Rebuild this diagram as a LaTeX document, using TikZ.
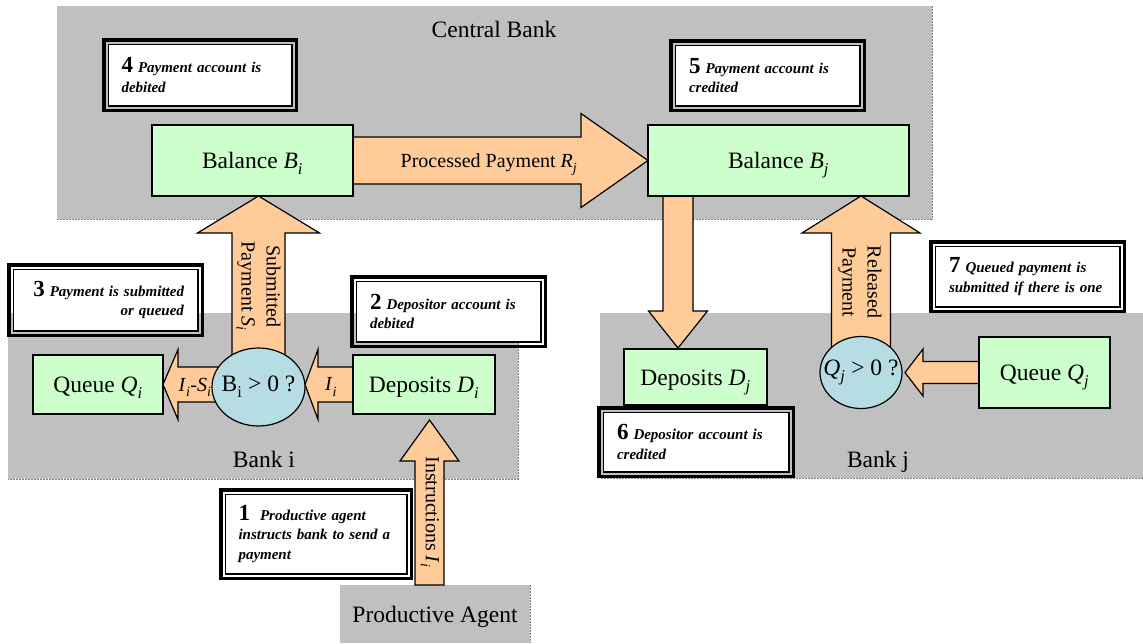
\documentclass[tikz,border=0pt]{standalone}
\usepackage{fontspec}
\setmainfont{Liberation Serif}
\usetikzlibrary{calc,shapes.geometric}
\definecolor{areagrey}{RGB}{192,192,192}
\definecolor{edgegrey}{RGB}{128,128,128}
\definecolor{boxgreen}{RGB}{204,255,204}
\definecolor{arrorange}{RGB}{255,204,153}
\definecolor{circblue}{RGB}{183,221,228}
\pgfdeclarelayer{bg}
\pgfdeclarelayer{mid}
\pgfsetlayers{bg,mid,main}
\newcommand\bigfont{\fontsize{23.5}{28}\selectfont}
\newcommand\lblfont{\fontsize{20}{25}\selectfont}
\newcommand\vsub[2]{\textit{#1}\raisebox{-0.1em}{\textsubscript{\textit{#2}}}}
\newcommand\stepnum[1]{{\fontsize{23}{19.5}\selectfont\upshape\bfseries #1}}
\tikzset{
 area/.style={fill=areagrey, inner sep=0pt, outer sep=0pt},
 areaedge/.style={draw=edgegrey, line width=0.7pt, dash pattern=on 2pt off 1pt},
 gbox/.style={fill=boxgreen, draw=black, line width=1.2pt, inner sep=0pt, outer sep=0pt, font=\bigfont, text height=16pt, text depth=0pt},
 cond/.style={ellipse, fill=circblue, draw=black, line width=1.2pt, inner sep=0pt, outer sep=0pt},
 fat/.style={fill=arrorange, draw=black, line width=1.2pt, line join=miter},
 numbox/.style={fill=white, draw=black, line width=1.5pt, inner sep=0pt, outer sep=0pt, font=\fontsize{15}{19.5}\selectfont\bfseries\itshape},
 frame/.style={draw=black, line width=3.5pt},
 alabel/.style={font=\lblfont, inner sep=0pt, align=center},
 atext/.style={font=\bigfont, inner sep=0pt},
}
% name, x, y, inner width, inner height, options, text
\newcommand\numbox[7]{%
 \node[numbox, minimum width=#4pt, minimum height=#5pt, #6] (#1) at (#2,#3) {#7};
 \draw[frame] ([shift={(-4.5pt,4.5pt)}]#1.north west) rectangle ([shift={(4.5pt,-4.5pt)}]#1.south east);}
% start, tip, shaft half width, head half width, head length (signed)
\newcommand\harrow[5]{%
 \draw[fat] let \p1=(#1), \p2=(#2) in
 ({\x1},{\y2+#3}) -- ({\x2-(#5)},{\y2+#3}) -- ({\x2-(#5)},{\y2+#4}) -- ({\x2},{\y2}) -- ({\x2-(#5)},{\y2-#4}) -- ({\x2-(#5)},{\y2-#3}) -- ({\x1},{\y2-#3}) -- cycle;}
\newcommand\varrow[5]{%
 \draw[fat] let \p1=(#1), \p2=(#2) in
 ({\x2+#3},{\y1}) -- ({\x2+#3},{\y2-(#5)}) -- ({\x2+#4},{\y2-(#5)}) -- ({\x2},{\y2}) -- ({\x2-#4},{\y2-(#5)}) -- ({\x2-#3},{\y2-(#5)}) -- ({\x2-#3},{\y1}) -- cycle;}
\begin{document}
\begin{tikzpicture}[x=1pt,y=-1pt]
\useasboundingbox (0,0) rectangle (1143,643);
\begin{pgfonlayer}{bg}
 \fill[white] (0,0) rectangle (1143,643);
 \node[area, minimum width=875pt, minimum height=213pt] (cb) at (494.5,112.5) {};
 \draw[areaedge] (cb.north east) -- (cb.south east) -- (cb.south west);
 \node[atext, anchor=base] (cbt) at (494,37.5) {Central Bank};
 \node[area, minimum width=510pt, minimum height=166pt] (bki) at (263,396) {};
 \draw[areaedge] (bki.north east) -- (bki.south east) -- (bki.south west);
 \node[atext, anchor=base] (bkit) at (264,467) {Bank i};
 \node[area, minimum width=543pt, minimum height=165pt] (bkj) at (871.5,395.5) {};
 \draw[areaedge] (bkj.south east) -- (bkj.south west);
 \node[atext, anchor=base] (bkjt) at (878,467) {Bank j};
 \node[area, minimum width=190pt, minimum height=58pt, font=\bigfont, text height=16pt, text depth=0pt] (pa) at (435,614) {Productive Agent};
 \draw[areaedge] (pa.north east) -- (pa.south east);
\end{pgfonlayer}

% green boxes
\node[gbox, minimum width=201pt, minimum height=71pt] (Bi) at (252.5,160.5) {Balance \vsub{B}{i}};
\node[gbox, minimum width=261pt, minimum height=71pt] (Bj) at (778.5,160.5) {Balance \vsub{B}{j}};
\node[gbox, minimum width=130pt, minimum height=59pt] (Qi) at (98,384.5) {Queue \vsub{Q}{i}};
\node[gbox, minimum width=142pt, minimum height=59pt] (Di) at (424,384.5) {Deposits \vsub{D}{i}};
\node[gbox, minimum width=143pt, minimum height=56pt] (Dj) at (695.5,377) {Deposits \vsub{D}{j}};
\node[gbox, minimum width=131pt, minimum height=71pt] (Qj) at (1044.5,372.5) {Queue \vsub{Q}{j}};

% decision ellipses
\node[cond, minimum width=93pt, minimum height=78pt, label={[atext]center:B\raisebox{-0.1em}{\textsubscript{i}} > 0 ?}] (ci) at (258.5,387) {};
\node[cond, minimum width=82pt, minimum height=72pt, label={[atext]center:\vsub{Q}{j} > 0 ?}] (cj) at (861,372.5) {};

% numbered step boxes
\numbox{b4}{200}{75}{183.5}{61.5}{text width=157pt, align=left}{\stepnum{4} Payment account is\\debited}
\numbox{b5}{767.5}{75.5}{184.5}{60.5}{text width=157pt, align=left}{\stepnum{5} Payment account is\\credited}
\numbox{b3}{105.5}{300}{184.5}{61.5}{text width=157pt, align=right}{\stepnum{3} Payment is submitted\\or queued}
\numbox{b2}{448.5}{311.5}{184.5}{60.5}{text width=157pt, align=left}{\stepnum{2} Depositor account is\\debited}
\numbox{b6}{696}{442}{185.5}{59.5}{text width=158pt, align=left}{\stepnum{6} Depositor account is\\credited}
\numbox{b7}{1027.5}{276.5}{184.5}{60.5}{text width=157pt, align=left}{\stepnum{7} Queued payment is\\submitted if there is one}
\numbox{b1}{316}{534}{181.5}{79.5}{text width=155pt, align=left}{\stepnum{1}\ \ Productive agent\\instructs bank to send a\\payment}

% tip coordinates
\coordinate (st) at (ci.center |- Bi.south);
\coordinate (ti) at (ci.east |- Di.west);
\coordinate (itip) at ($(Di.south)+(5.5,6)$);
\coordinate (dtip) at ($(Dj.north)+(-17.5,-1)$);
\coordinate (rtip) at (cj.center |- Bj.south);
\coordinate (qtip) at ($(cj.east)+(3,0)$);

\begin{pgfonlayer}{mid}
 \harrow{Bi.east}{Bj.west}{23.5}{47}{67}
 \varrow{ci.center}{st}{26.5}{61}{37}
 \harrow{ci.center}{Qi.east}{17.5}{35}{-15}
 \harrow{Di.west}{ti}{17.5}{35}{-13}
 \varrow{pa.north}{itip}{14.5}{29.5}{41}
 \varrow{Bj.south}{dtip}{15}{29.5}{-37}
 \varrow{cj.center}{rtip}{29.5}{59}{37}
 \harrow{Qj.west}{qtip}{11}{23.5}{-18}
 \node[alabel, anchor=base] (lp) at (489,167) {Processed Payment \vsub{R}{j}};
 \node[alabel, rotate=-90] (ls) at (258.5,286.5) {Submitted\\Payment \vsub{S}{i}};
 \node[alabel, rotate=-90] (lr) at (860,282) {Released\\Payment};
 \node[alabel, rotate=-90] (li) at (430,512) {Instructions \vsub{I}{i}};
 \node[alabel] (lis) at (195,387) {\vsub{I}{i}-\vsub{S}{i}};
 \node[alabel] (lii) at (331,387) {\vsub{I}{i}};
\end{pgfonlayer}
\end{tikzpicture}
\end{document}
